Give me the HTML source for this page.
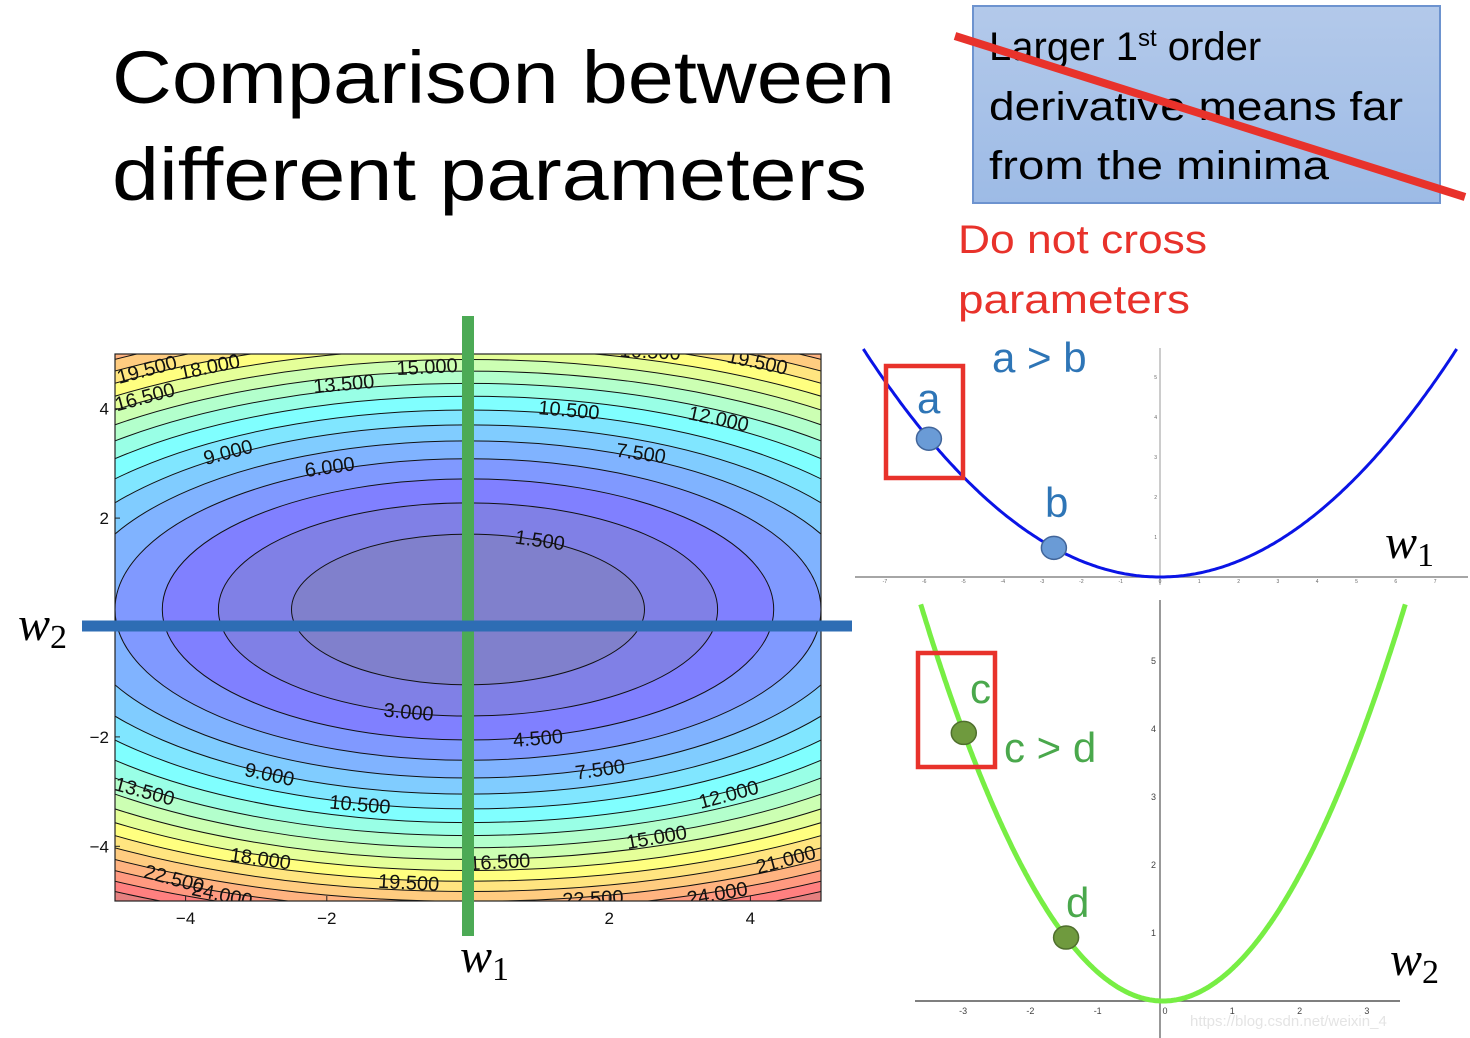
<!DOCTYPE html>
<html><head><meta charset="utf-8">
<style>
html,body{margin:0;padding:0;background:#fff;}
svg{display:block;font-family:"Liberation Sans",sans-serif;}
</style></head>
<body>
<svg id="s" width="1470" height="1038" viewBox="0 0 1470 1038">
  <text x="112" y="103" font-size="74" textLength="783" lengthAdjust="spacingAndGlyphs">Comparison between</text>
  <text x="112" y="200" font-size="74" textLength="755" lengthAdjust="spacingAndGlyphs">different parameters</text>

  <g>
    <defs><linearGradient id="bg" x1="0" y1="0" x2="0" y2="1"><stop offset="0" stop-color="#b3c9ea"/><stop offset="1" stop-color="#9dbbe6"/></linearGradient></defs>
    <rect x="973" y="6" width="467" height="197" fill="url(#bg)" stroke="#6d93cf" stroke-width="2"/>
    <text x="989" y="60" font-size="40" fill="#000">Larger 1<tspan font-size="24" dy="-14">st</tspan><tspan dy="14"> order</tspan></text>
    <text x="989" y="120" font-size="40" fill="#000" textLength="414" lengthAdjust="spacingAndGlyphs">derivative means far</text>
    <text x="989" y="179" font-size="40" fill="#000" textLength="340" lengthAdjust="spacingAndGlyphs">from the minima</text>
    <line x1="955" y1="36" x2="1465" y2="197" stroke="#e8322b" stroke-width="8"/>
  </g>
  <text x="958" y="253" font-size="40" fill="#e8322b" textLength="249" lengthAdjust="spacingAndGlyphs">Do not cross</text>
  <text x="958" y="313" font-size="40" fill="#e8322b" textLength="232" lengthAdjust="spacingAndGlyphs">parameters</text>

  <g id="contour"></g>
  <g id="right"></g>
  <text x="1190" y="1026" font-size="15" fill="#e4e4e4">https://blog.csdn.net/weixin_4</text>
</svg>
<script>
const NS="http://www.w3.org/2000/svg";
// ---- contour chart data ----
const levels=[1.5,3,4.5,6,7.5,9,10.5,12,13.5,15,16.5,18,19.5,21,22.5,24,25.5,27,28.5,30,31.5,33];
const coefX=[0.24];
const coefY=[0.79];
const centerY=[0.33];
const xTicks=[-4,-2,2,4];
const yTicks=[4,2,-2,-4];
const labelText=["19.500","18.000","16.500","15.000","13.500","16.500","19.500","10.500","12.000","9.000","6.000","7.500","1.500","3.000","4.500","9.000","7.500","13.500","10.500","12.000","18.000","15.000","16.500","21.000","22.500","24.000","19.500","22.500","24.000"];
const labelX=[-4.55,-3.66,-4.58,-0.58,-1.76,2.58,4.10,1.43,3.55,-3.40,-1.96,2.45,1.02,-0.84,0.99,-2.81,1.87,-4.58,-1.53,3.69,-2.94,2.67,0.45,4.50,-4.16,-3.48,-0.84,1.77,3.53];
const labelY=[4.72,4.77,4.22,4.77,4.46,5.05,4.86,3.98,3.82,3.21,2.94,3.19,1.60,-1.54,-2.02,-2.68,-2.59,-2.99,-3.23,-3.05,-4.22,-3.83,-4.28,-4.24,-4.59,-4.88,-4.66,-4.95,-4.86];
const labelRot=[-15,-12,-15,-3,-5,3,12,5,12,-15,-8,8,8,5,-5,12,-8,15,5,-15,8,-10,-3,-15,15,12,3,-3,-10];

const X0=115,X1=821,Y0=354,Y1=901;
const sx=v=>X0+(v+5)/10*(X1-X0);
const sy=v=>Y1-(v+5)/10*(Y1-Y0);
function jet(t){t=Math.max(0,Math.min(1,t));
  const f=(a)=>Math.max(0,Math.min(1,1.5-Math.abs(4*t-a)));
  return [f(3),f(2),f(1)];}
function col(v){const c=jet(v/30);return `rgb(${c.map(x=>Math.round(255*(0.5+0.5*x))).join(',')})`;}
function el(tag,attrs,parent){const e=document.createElementNS(NS,tag);for(const k in attrs)e.setAttribute(k,attrs[k]);parent.appendChild(e);return e;}
const cg=document.getElementById('contour');
const defs=el('defs',{},cg);
const cp=el('clipPath',{id:'cbox'},defs);
el('rect',{x:X0,y:Y0,width:X1-X0,height:Y1-Y0},cp);
const inner=el('g',{'clip-path':'url(#cbox)'},cg);
const bg=el('rect',{x:X0,y:Y0,width:X1-X0,height:Y1-Y0,fill:col(levels[levels.length-1]+0.75)},inner);


const cx=sx(0),cy=sy(centerY[0]),ux=(X1-X0)/10,uy=(Y1-Y0)/10;
for(let i=levels.length-1;i>=0;i--){
  const L=levels[i];const lo=i>0?levels[i-1]:0;
  const e=el('ellipse',{cx:cx,cy:cy,rx:Math.sqrt(L/coefX[0])*ux,ry:Math.sqrt(L/coefY[0])*uy,fill:col((L+lo)/2)},inner);
  
  
}
for(let i=0;i<levels.length;i++){
  const L=levels[i];
  const e=el('ellipse',{cx:cx,cy:cy,rx:Math.sqrt(L/coefX[0])*ux,ry:Math.sqrt(L/coefY[0])*uy,fill:'none',stroke:'#111','stroke-width':1},inner);
  
  
}
for(let i=0;i<labelText.length;i++){
  const x=sx(labelX[i]),y=sy(labelY[i]);
  const t=el('text',{x:x,y:y+7,'font-size':20,'text-anchor':'middle',fill:'#111',transform:`rotate(${labelRot[i]} ${x} ${y})`},inner);
  t.textContent=labelText[i];
  
  
}
const fr=el('rect',{x:X0,y:Y0,width:X1-X0,height:Y1-Y0,fill:'none',stroke:'#222','stroke-width':1.2},cg);


xTicks.forEach(v=>{
  const t=el('text',{x:sx(v),y:924,'font-size':17,'text-anchor':'middle',fill:'#111'},cg);
  t.textContent=(v<0?'\u2212':'')+Math.abs(v);
  
  
  el('line',{x1:sx(v),x2:sx(v),y1:Y1,y2:Y1-5,stroke:'#222'},cg);
});
yTicks.forEach(v=>{
  const t=el('text',{x:109,y:sy(v)+6,'font-size':17,'text-anchor':'end',fill:'#111'},cg);
  t.textContent=(v<0?'\u2212':'')+Math.abs(v);
  
  
  el('line',{x1:X0,x2:X0+5,y1:sy(v),y2:sy(v),stroke:'#222'},cg);
});
const gl=el('line',{x1:468,x2:468,y1:316,y2:936,stroke:'#4caa55','stroke-width':12},cg);


const bl=el('line',{x1:82,x2:852,y1:626,y2:626,stroke:'#2e6db4','stroke-width':11},cg);


function wlabel(parent,x,y,sub,name){
  const t=el('text',{x:x,y:y,'font-size':48,'font-style':'italic','font-family':'"Liberation Serif",serif',fill:'#000'},parent);
  t.innerHTML='w<tspan font-style="normal" font-size="34" dy="8">'+sub+'</tspan>';
  
  
}
wlabel(cg,18,640,'2','w2-axis-label');
wlabel(cg,460,972,'1','w1-axis-label');

// ---- right curves ----
const curve1K=[0.1];
const curve2K=[0.45];
const pointsTopX=[-5.88,-2.7];
const pointsBotX=[-2.96,-1.44];
const rg=document.getElementById('right');
const t0x=1160,t0y=577,tux=39.3,tuy=40;
const tX=v=>t0x+v*tux, tY=v=>t0y-v*tuy;
el('line',{x1:855,x2:1468,y1:t0y,y2:t0y,stroke:'#888','stroke-width':1.5},rg);
el('line',{x1:t0x,x2:t0x,y1:348,y2:585,stroke:'#bbb','stroke-width':1.5},rg);
for(let v=-7;v<=7;v++){const t=el('text',{x:tX(v),y:t0y+6,'font-size':5,fill:'#666','text-anchor':'middle'},rg);t.textContent=v;}
for(let v=1;v<=5;v++){const t=el('text',{x:t0x-3,y:tY(v)+2,'font-size':5,fill:'#666','text-anchor':'end'},rg);t.textContent=v;}
let d='';for(let v=-7.9;v<=7.9;v+=0.05){const y=curve1K[0]*v*v;if(tY(y)<346)continue;d+=(d?'L':'M')+tX(v).toFixed(1)+' '+tY(y).toFixed(1);}
const c1=el('path',{d:d,fill:'none',stroke:'#0a14e6','stroke-width':3},rg);


const b0x=1163,b0y=1001,bux=67.3,buy=68;
const bX=v=>b0x+v*bux, bY=v=>b0y-v*buy;
el('line',{x1:915,x2:1400,y1:b0y,y2:b0y,stroke:'#555','stroke-width':1.5},rg);
el('line',{x1:1160,x2:1160,y1:600,y2:1038,stroke:'#555','stroke-width':1.2},rg);
for(let v=-3;v<=3;v++){const t=el('text',{x:bX(v)+2,y:b0y+13,'font-size':9,fill:'#444','text-anchor':'middle'},rg);t.textContent=v;}
for(let v=1;v<=5;v++){const t=el('text',{x:1156,y:bY(v)+3,'font-size':9,fill:'#444','text-anchor':'end'},rg);t.textContent=v;}
d='';for(let v=-3.7;v<=3.7;v+=0.02){const y=curve2K[0]*v*v;if(bY(y)<602)continue;d+=(d?'L':'M')+bX(v).toFixed(1)+' '+bY(y).toFixed(1);}
const c2=el('path',{d:d,fill:'none',stroke:'#77ee44','stroke-width':5},rg);


pointsTopX.forEach((v,i)=>{
  const p=el('ellipse',{cx:tX(v),cy:tY(curve1K[0]*v*v),rx:12.5,ry:11.5,fill:'#6a9bd6',stroke:'#41659a','stroke-width':1.5},rg);
  
  
});
pointsBotX.forEach((v,i)=>{
  const p=el('ellipse',{cx:bX(v),cy:bY(curve2K[0]*v*v),rx:12.5,ry:11.5,fill:'#6f9a3e',stroke:'#4f6f2d','stroke-width':1.5},rg);
  
  
});
function box(x,y,w,h,name){const r=el('rect',{x:x,y:y,width:w,height:h,fill:'none',stroke:'#e8322b','stroke-width':4.5},rg);}
box(886,366,77,112,'highlight-box-a');
box(918,653,77,114,'highlight-box-c');
function txt(x,y,s,c,name){const t=el('text',{x:x,y:y,'font-size':42,fill:c},rg);t.textContent=s;}
txt(992,372,'a > b','#2e75b6','label-a-gt-b');
txt(917,413,'a','#2e75b6','label-a');
txt(1045,517,'b','#2e75b6','label-b');
txt(970,703,'c','#4aa84c','label-c');
txt(1004,762,'c > d','#4aa84c','label-c-gt-d');
txt(1066,917,'d','#4aa84c','label-d');
wlabel(rg,1385,558,'1','w1-curve-label');
wlabel(rg,1390,975,'2','w2-curve-label');
</script>
</body></html>
